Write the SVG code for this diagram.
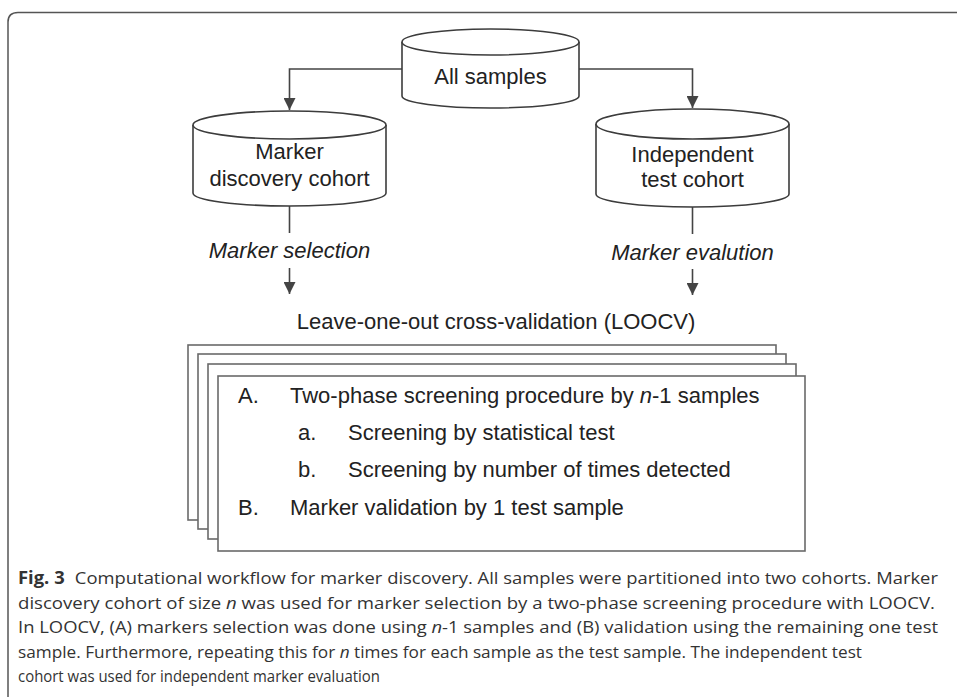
<svg xmlns="http://www.w3.org/2000/svg" width="957" height="697" viewBox="0 0 957 697">
<style>
.cyl{fill:#fff;stroke:#3c3c3c;stroke-width:1.6}
.t{font-family:"Liberation Sans",Arial,sans-serif;font-size:22px;fill:#222}
.it{font-style:italic}
.ln{fill:none;stroke:#444;stroke-width:1.6}
.pg{fill:#fff;stroke:#6a6a6a;stroke-width:1.6}
.cap{font-family:"Open Sans","Noto Sans",sans-serif;font-size:17px;fill:#333}
.frame{fill:none;stroke:#555;stroke-width:1.5}
</style>
<defs>
<marker id="ah" viewBox="0 0 12 12" refX="12" refY="6" markerWidth="12" markerHeight="12" markerUnits="userSpaceOnUse" orient="auto">
<path d="M0,0 L12,6 L0,12 Z" fill="#444"/>
</marker>
</defs>
<path class="frame" d="M8,697 V22 Q8,12.5 18,12.5 H957"/>
<g id="connectors">
<path class="ln" d="M402,69 H289.5 V110" marker-end="url(#ah)"/>
<path class="ln" d="M579,69 H692.5 V108" marker-end="url(#ah)"/>
<line class="ln" x1="289.5" y1="206" x2="289.5" y2="233"/>
<line class="ln" x1="289.5" y1="268" x2="289.5" y2="294" marker-end="url(#ah)"/>
<line class="ln" x1="692.5" y1="207" x2="692.5" y2="234"/>
<line class="ln" x1="692.5" y1="269" x2="692.5" y2="295" marker-end="url(#ah)"/>
</g>
<g id="all-samples">
<path class="cyl" d="M402,42 V96 A88.5,12 0 0 0 579,96 V42"/>
<ellipse class="cyl" cx="490.5" cy="42" rx="88.5" ry="13"/>
<text class="t" x="490.5" y="84" text-anchor="middle">All samples</text>
</g>
<g id="marker-discovery-cohort">
<path class="cyl" d="M193,125 V193 A96.5,13 0 0 0 386,193 V125"/>
<ellipse class="cyl" cx="289.5" cy="125" rx="96.5" ry="14"/>
<text class="t" x="289.5" y="159" text-anchor="middle">Marker</text>
<text class="t" x="289.5" y="186" text-anchor="middle">discovery cohort</text>
</g>
<g id="independent-test-cohort">
<path class="cyl" d="M596,124 V194 A96.5,13 0 0 0 789,194 V124"/>
<ellipse class="cyl" cx="692.5" cy="124" rx="96.5" ry="15"/>
<text class="t" x="692.5" y="162" text-anchor="middle">Independent</text>
<text class="t" x="692.5" y="187" text-anchor="middle">test cohort</text>
</g>
<g id="label-selection">
<text class="t it" x="289.5" y="258" text-anchor="middle">Marker selection</text>
</g>
<g id="label-evaluation">
<text class="t it" x="692.5" y="260" text-anchor="middle">Marker evalution</text>
</g>
<g id="loocv">
<text class="t" x="496" y="329" text-anchor="middle">Leave-one-out cross-validation (LOOCV)</text>
<rect class="pg" x="188" y="345" width="588" height="175"/>
<rect class="pg" x="198" y="354" width="588" height="175"/>
<rect class="pg" x="208" y="364" width="588" height="175"/>
<rect class="pg" x="218" y="376" width="587" height="175"/>
<text class="t" x="238" y="403">A.</text>
<text class="t" x="290" y="403">Two-phase screening procedure by <tspan class="it">n</tspan>-1 samples</text>
<text class="t" x="298" y="440">a.</text>
<text class="t" x="348" y="440">Screening by statistical test</text>
<text class="t" x="298" y="477">b.</text>
<text class="t" x="348" y="477">Screening by number of times detected</text>
<text class="t" x="238" y="515">B.</text>
<text class="t" x="290" y="515">Marker validation by 1 test sample</text>
</g>
<g id="caption">
<text class="cap" x="18" y="584" textLength="920" lengthAdjust="spacingAndGlyphs"><tspan font-weight="bold">Fig. 3</tspan><tspan dx="5"> Computational workflow for marker discovery. All samples were partitioned into two cohorts. Marker</tspan></text>
<text class="cap" x="18" y="608.5" textLength="917" lengthAdjust="spacingAndGlyphs">discovery cohort of size <tspan font-style="italic">n</tspan> was used for marker selection by a two-phase screening procedure with LOOCV.</text>
<text class="cap" x="18" y="633" textLength="920" lengthAdjust="spacingAndGlyphs">In LOOCV, (A) markers selection was done using <tspan font-style="italic">n</tspan>-1 samples and (B) validation using the remaining one test</text>
<text class="cap" x="18" y="657.5" textLength="844" lengthAdjust="spacingAndGlyphs">sample. Furthermore, repeating this for <tspan font-style="italic">n</tspan> times for each sample as the test sample. The independent test</text>
<text class="cap" x="18" y="682" textLength="362" lengthAdjust="spacingAndGlyphs">cohort was used for independent marker evaluation</text>
</g>
</svg>
